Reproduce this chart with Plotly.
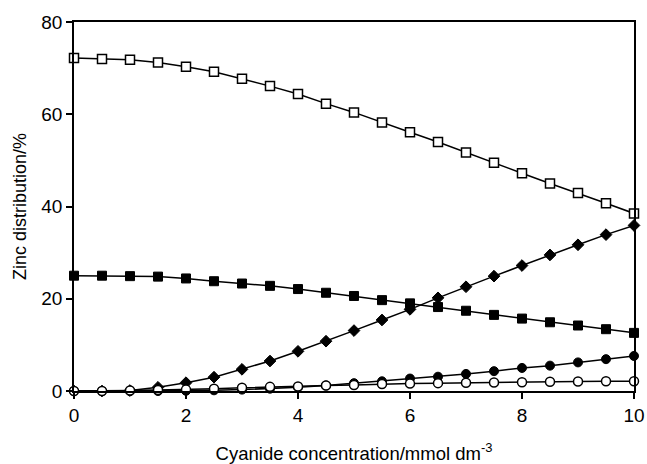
import plotly.graph_objects as go

cyanide = [0, 0.5, 1, 1.5, 2, 2.5, 3, 3.5, 4, 4.5, 5, 5.5, 6, 6.5, 7, 7.5, 8, 8.5, 9, 9.5, 10]

open_squares = [72.2, 72.0, 71.8, 71.2, 70.3, 69.2, 67.7, 66.1, 64.4, 62.3, 60.4,
                58.2, 56.1, 54.0, 51.7, 49.5, 47.2, 45.0, 42.9, 40.7, 38.5]
filled_squares = [25.0, 25.0, 24.9, 24.8, 24.4, 23.8, 23.3, 22.8, 22.1, 21.3, 20.6,
                  19.7, 19.0, 18.2, 17.4, 16.5, 15.7, 14.9, 14.2, 13.4, 12.6]
diamonds = [0.0, 0.0, 0.1, 0.8, 1.8, 3.0, 4.7, 6.5, 8.6, 10.8, 13.1,
            15.4, 17.7, 20.2, 22.6, 24.9, 27.2, 29.5, 31.7, 33.9, 35.9]
filled_circles = [0.0, 0.0, 0.0, 0.0, 0.05, 0.15, 0.3, 0.5, 0.8, 1.2, 1.7,
                  2.1, 2.7, 3.1, 3.7, 4.3, 5.0, 5.5, 6.2, 6.9, 7.6]
open_circles = [0.0, 0.0, 0.1, 0.2, 0.3, 0.5, 0.7, 0.9, 1.0, 1.2, 1.3,
                1.5, 1.6, 1.7, 1.8, 1.85, 1.9, 2.0, 2.05, 2.1, 2.1]

x_ticks = [0, 2, 4, 6, 8, 10]
y_ticks = [0, 20, 40, 60, 80]

series = [
    (open_squares, "square-open", 9),
    (filled_squares, "square", 9),
    (diamonds, "diamond", 9),
    (filled_circles, "circle", 9),
    (open_circles, "circle", 9),
]

fig = go.Figure()
for i, (vals, sym, size) in enumerate(series):
    if i == 4:
        marker = dict(symbol="circle", size=size, color="white",
                      line=dict(color="black", width=1.5))
    elif sym == "square-open":
        marker = dict(symbol="square", size=size, color="white",
                      line=dict(color="black", width=1.5))
    else:
        marker = dict(symbol=sym, size=size, color="black",
                      line=dict(color="black", width=1))
    fig.add_trace(go.Scatter(x=cyanide, y=vals, mode="lines+markers",
                             line=dict(color="black", width=1.5),
                             marker=marker, showlegend=False, cliponaxis=False))

axis_common = dict(showgrid=False, zeroline=False, showline=True, linecolor="black",
                   linewidth=1.5, ticks="outside", ticklen=6, tickwidth=1.5,
                   tickcolor="black", mirror=True, automargin=False,
                   tickfont=dict(family="Liberation Sans, Arial", size=19, color="black"))

fig.update_layout(
    width=647, height=464,
    margin=dict(l=74, r=13, t=22, b=73),
    paper_bgcolor="white", plot_bgcolor="white",
    font=dict(family="Liberation Sans, Arial", size=18, color="black"),
    xaxis=dict(range=[0, 10], tickvals=x_ticks,
               title=dict(text="Cyanide concentration/mmol dm<sup>-3</sup>",
                          font=dict(size=18.5), standoff=24),
               **axis_common),
    yaxis=dict(range=[0, 80], tickvals=y_ticks,
               title=dict(text="Zinc distribution/%", font=dict(size=18), standoff=10),
               **axis_common),
)

fig.write_html("out.html")
